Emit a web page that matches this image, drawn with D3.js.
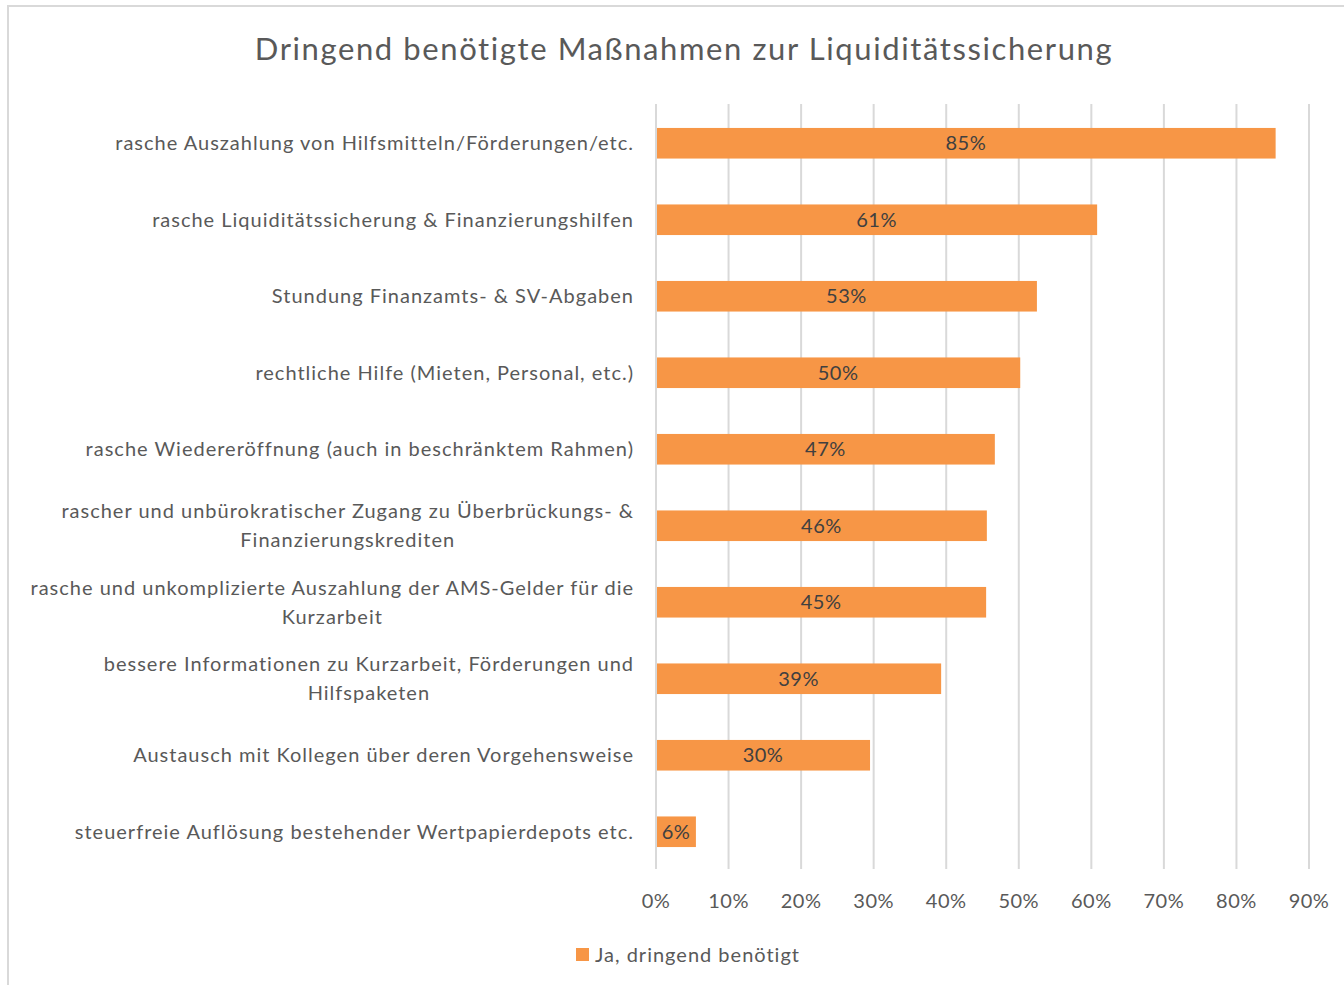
<!DOCTYPE html>
<html><head><meta charset="utf-8">
<script src="https://cdn.jsdelivr.net/npm/d3@7"></script>
<style>body{margin:0;background:#fff;} text{font-family:Lato,"Open Sans",sans-serif;}</style>
</head><body>
<svg id="chart" width="1344" height="985"></svg>
<script>
const title = "Dringend benötigte Maßnahmen zur Liquiditätssicherung";
const categories = [
  ["rasche Auszahlung von Hilfsmitteln/Förderungen/etc."],
  ["rasche Liquiditätssicherung & Finanzierungshilfen"],
  ["Stundung Finanzamts- & SV-Abgaben"],
  ["rechtliche Hilfe (Mieten, Personal, etc.)"],
  ["rasche Wiedereröffnung (auch in beschränktem Rahmen)"],
  ["rascher und unbürokratischer Zugang zu Überbrückungs- &", "Finanzierungskrediten"],
  ["rasche und unkomplizierte Auszahlung der AMS-Gelder für die", "Kurzarbeit"],
  ["bessere Informationen zu Kurzarbeit, Förderungen und", "Hilfspaketen"],
  ["Austausch mit Kollegen über deren Vorgehensweise"],
  ["steuerfreie Auflösung bestehender Wertpapierdepots etc."]
];
const values = [0.854, 0.608, 0.525, 0.502, 0.467, 0.456, 0.455, 0.393, 0.295, 0.055];
const valueLabels = ["85%", "61%", "53%", "50%", "47%", "46%", "45%", "39%", "30%", "6%"];
const ticks = [0, 0.1, 0.2, 0.3, 0.4, 0.5, 0.6, 0.7, 0.8, 0.9];
const seriesName = "Ja, dringend benötigt";

const svg = d3.select("#chart");
const fs = 20;
// chart border (only top and left edges visible in frame)
svg.append("rect").attr("x", 8).attr("y", 6).attr("width", 1400).attr("height", 1100)
  .attr("fill", "none").attr("stroke", "#d9d9d9").attr("stroke-width", 2);

svg.append("text").attr("x", 684).attr("y", 60).attr("text-anchor", "middle")
  .attr("font-size", 31).attr("letter-spacing", 1.6).attr("fill", "#595959").text(title);

const x = d3.scaleLinear().domain([0, 0.9]).range([656, 1309]);
const idx = d3.range(categories.length);
const y = d3.scaleBand().domain(idx).range([105, 870]).paddingInner(0.6).paddingOuter(0.3);

// gridlines
svg.append("g").selectAll("line").data(ticks).join("line")
  .attr("x1", d => x(d)).attr("x2", d => x(d)).attr("y1", 104).attr("y2", 869)
  .attr("stroke", "#d9d9d9").attr("stroke-width", 2);

// bars
svg.append("g").selectAll("rect").data(idx).join("rect")
  .attr("x", x(0) + 1).attr("y", i => y(i)).attr("height", y.bandwidth())
  .attr("width", i => x(values[i]) - x(0) - 1).attr("fill", "#f79646");

// data labels
svg.append("g").selectAll("text").data(idx).join("text")
  .attr("x", i => (x(0) + x(values[i])) / 2).attr("y", i => y(i) + y.bandwidth() / 2)
  .attr("dy", "0.35em").attr("text-anchor", "middle").attr("font-size", fs)
  .attr("letter-spacing", 0.5).attr("fill", "#404040").text(i => valueLabels[i]);

// category labels
const lineH = 29;
const cg = svg.append("g");
idx.forEach(i => {
  const lines = categories[i];
  const cy = y(i) + y.bandwidth() / 2;
  const t = cg.append("text").attr("font-size", fs).attr("letter-spacing", 1)
    .attr("fill", "#595959").attr("text-anchor", "start");
  const spans = lines.map((l, k) => t.append("tspan").text(l)
    .attr("y", cy + (k - (lines.length - 1) / 2) * lineH).attr("dy", "0.35em"));
  const widths = spans.map(s => s.node().getComputedTextLength());
  const maxW = d3.max(widths);
  spans.forEach((s, k) => s.attr("x", 634 - maxW / 2 - widths[k] / 2));
});

// axis tick labels
svg.append("g").selectAll("text").data(ticks).join("text")
  .attr("x", d => x(d)).attr("y", 901).attr("dy", "0.35em").attr("text-anchor", "middle")
  .attr("font-size", fs).attr("letter-spacing", 0.5).attr("fill", "#595959").text(d3.format(".0%"));

// legend
svg.append("rect").attr("x", 576).attr("y", 948).attr("width", 13).attr("height", 13).attr("fill", "#f79646");
svg.append("text").attr("x", 595).attr("y", 955).attr("dy", "0.35em").attr("font-size", fs)
  .attr("letter-spacing", 1).attr("fill", "#595959").text(seriesName);
</script>
</body></html>
